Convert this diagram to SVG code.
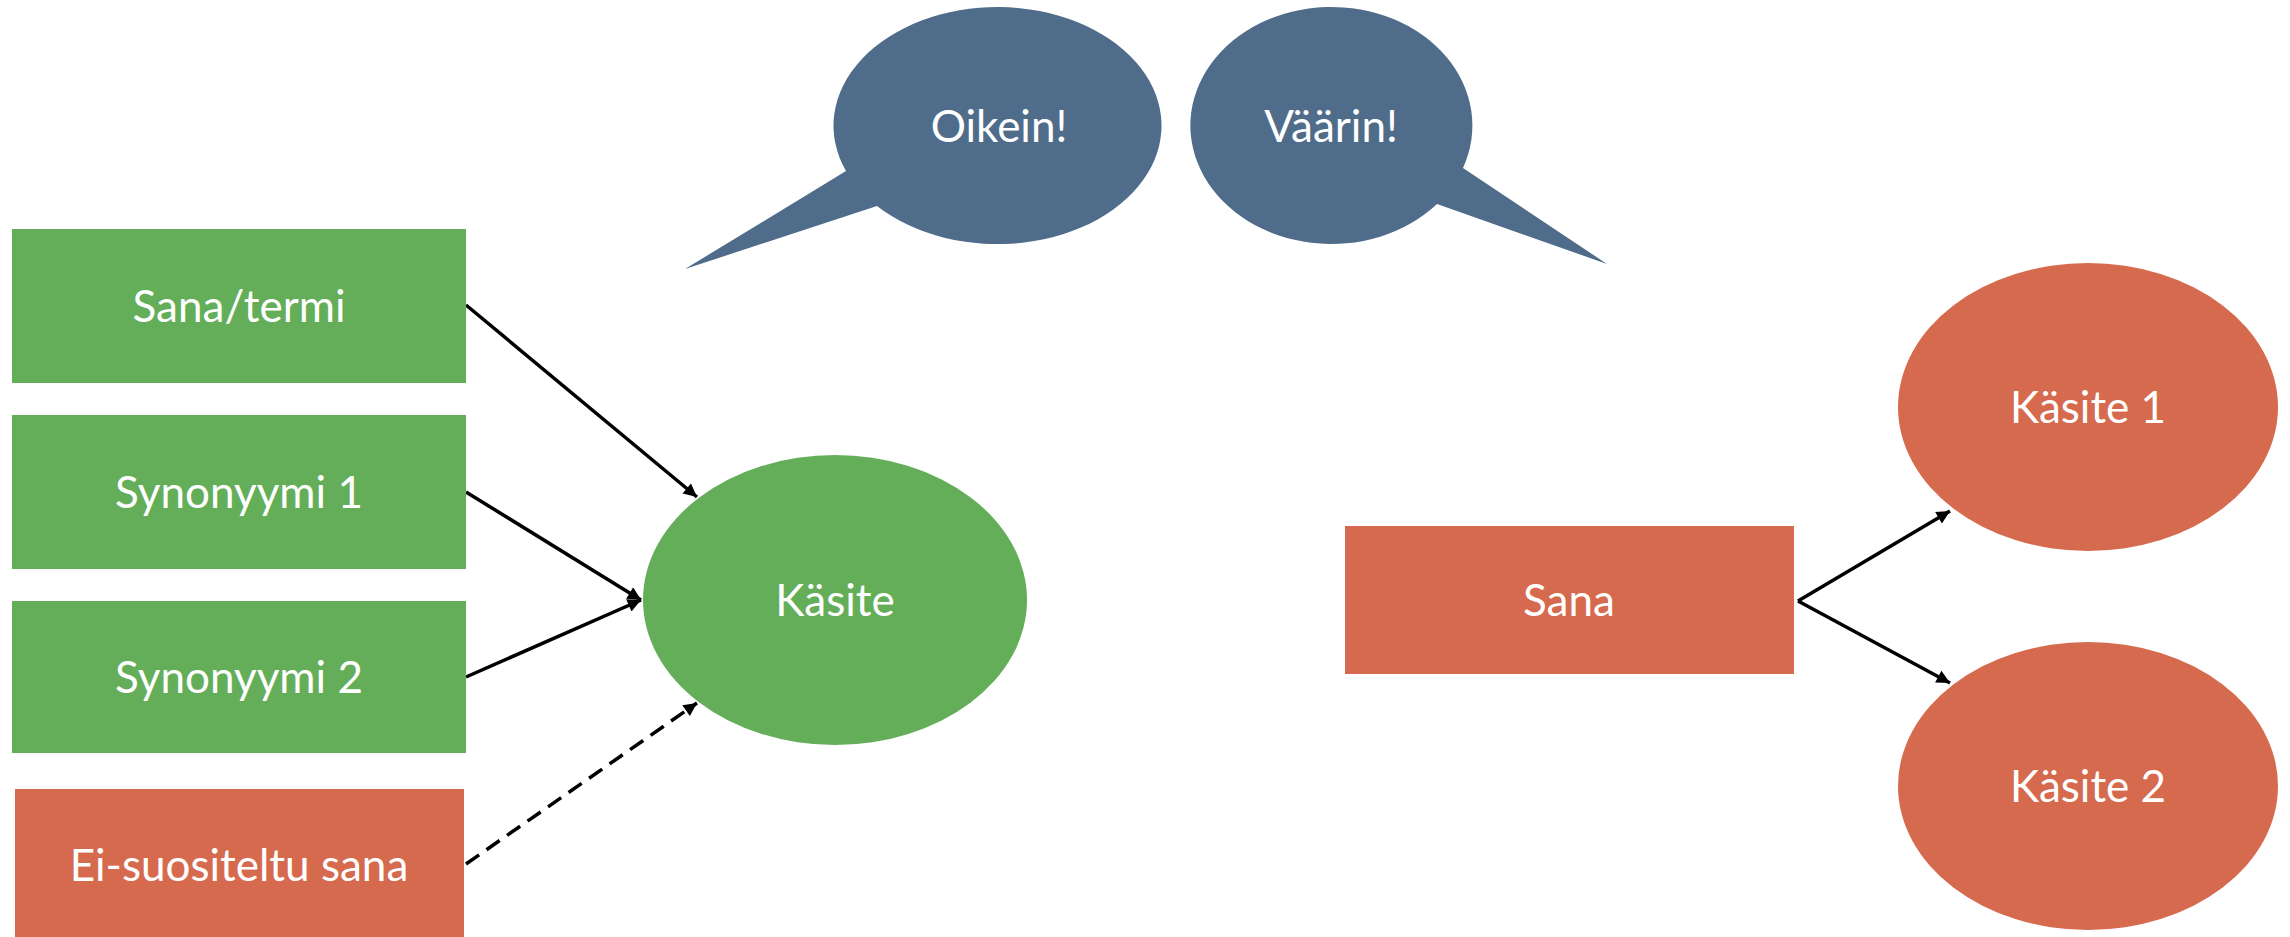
<svg xmlns="http://www.w3.org/2000/svg" width="2290" height="937" viewBox="0 0 2290 937">
  <style>
    .green { fill: #64AE5A; }
    .orange { fill: #D66A4E; }
    .bubble { fill: #4F6D8A; }
    .label { font-family: Lato, "Open Sans", sans-serif; font-size: 44px; fill: #FFFFFF; text-anchor: middle; }
    .edge { stroke: #000000; stroke-width: 3.5; fill: none; marker-end: url(#arrow); }
    .dashed { stroke-dasharray: 16 9; }
  </style>
  <defs>
    <marker id="arrow" viewBox="0 0 10 10" refX="10" refY="5" markerWidth="4.7" markerHeight="3.8" orient="auto" markerUnits="strokeWidth">
      <path d="M0,0 L10,5 L0,10 z" fill="#000000"/>
    </marker>
  </defs>

  <rect width="2290" height="937" fill="#FFFFFF"/>

  <!-- connectors -->
  <g id="connectors">
    <line class="edge" x1="466" y1="305" x2="697" y2="497"/>
    <line class="edge" x1="466" y1="492" x2="641" y2="600"/>
    <line class="edge" x1="466" y1="677" x2="641" y2="600"/>
    <line class="edge dashed" x1="466" y1="864" x2="697" y2="703"/>
    <line class="edge" x1="1798" y1="601" x2="1950" y2="511"/>
    <line class="edge" x1="1798" y1="601" x2="1950" y2="683"/>
  </g>

  <!-- speech bubbles -->
  <g id="oikein">
    <path class="bubble" d="M846,171 L685,269 L877,206 A164,118.5 0 1 0 846,171 Z"/>
    <text class="label" x="999" y="142">Oikein!</text>
  </g>
  <g id="vaarin">
    <path class="bubble" d="M1463,168 L1607,264 L1437,204 A141,118.5 0 1 1 1463,168 Z"/>
    <text class="label" x="1331" y="142">Väärin!</text>
  </g>

  <!-- left: several terms for one concept -->
  <g id="sana-termi">
    <rect class="green" x="12" y="229" width="454" height="154"/>
    <text class="label" x="239" y="322">Sana/termi</text>
  </g>
  <g id="synonyymi-1">
    <rect class="green" x="12" y="415" width="454" height="154"/>
    <text class="label" x="239" y="508">Synonyymi 1</text>
  </g>
  <g id="synonyymi-2">
    <rect class="green" x="12" y="601" width="454" height="152"/>
    <text class="label" x="239" y="693">Synonyymi 2</text>
  </g>
  <g id="ei-suositeltu">
    <rect class="orange" x="15" y="789" width="449" height="148"/>
    <text class="label" x="239" y="881">Ei-suositeltu sana</text>
  </g>
  <g id="kasite">
    <ellipse class="green" cx="835" cy="600" rx="192" ry="145"/>
    <text class="label" x="835" y="616">Käsite</text>
  </g>

  <!-- right: one word for several concepts -->
  <g id="sana">
    <rect class="orange" x="1345" y="526" width="449" height="148"/>
    <text class="label" x="1569" y="616">Sana</text>
  </g>
  <g id="kasite-1">
    <ellipse class="orange" cx="2088" cy="407" rx="190" ry="144"/>
    <text class="label" x="2088" y="423">Käsite 1</text>
  </g>
  <g id="kasite-2">
    <ellipse class="orange" cx="2088" cy="786" rx="190" ry="144"/>
    <text class="label" x="2088" y="802">Käsite 2</text>
  </g>
</svg>
